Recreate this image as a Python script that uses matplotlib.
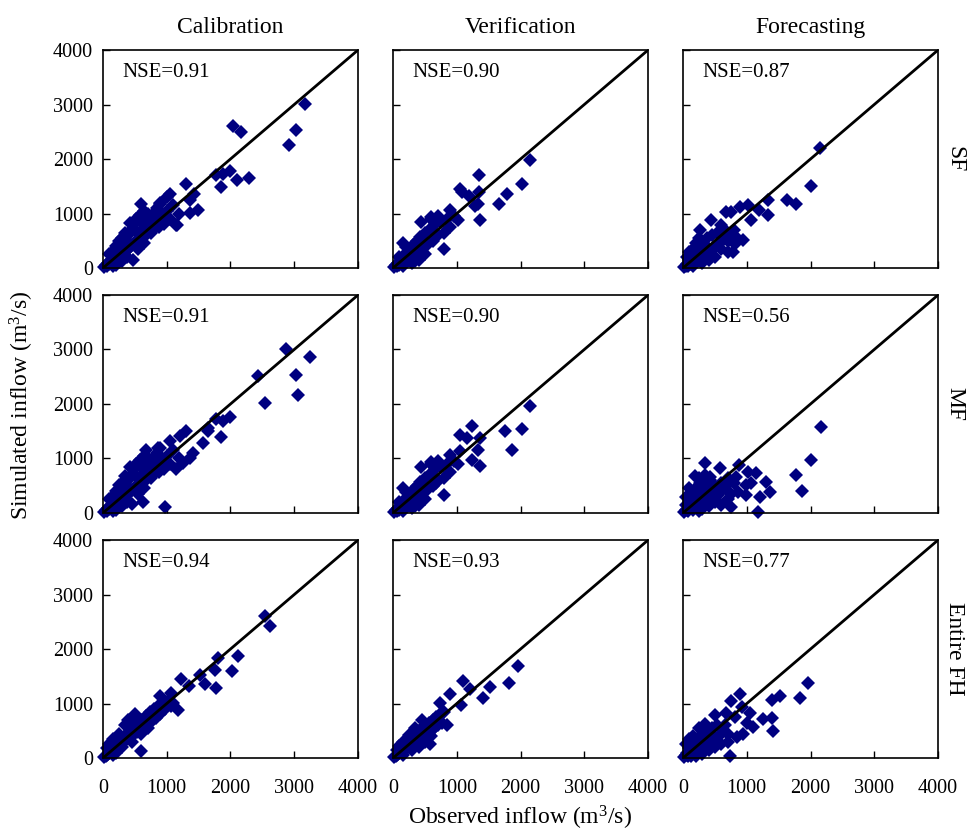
import matplotlib
matplotlib.use('Agg')
from matplotlib import pyplot as plt
import numpy as np

plt.rcParams['font.family'] = ['Liberation Serif', 'DejaVu Serif']
plt.rcParams['mathtext.fontset'] = 'custom'
plt.rcParams['mathtext.rm'] = 'Liberation Serif'
plt.rcParams['mathtext.it'] = 'Liberation Serif:italic'

col_titles = ['Calibration', 'Verification', 'Forecasting']
row_titles = ['SF', 'MF', 'Entire FH']
nse = [['0.91', '0.90', '0.87'],
       ['0.91', '0.90', '0.56'],
       ['0.94', '0.93', '0.77']]
ticks = [0, 1000, 2000, 3000, 4000]

# (observed, simulated) pairs
cal_sf = [(20, 15), (40, 50), (60, 30), (80, 90), (100, 70), (120, 140), (140, 100), (160, 200),
          (180, 130), (200, 260), (220, 170), (240, 310), (260, 220), (280, 380), (300, 250),
          (320, 450), (340, 300), (360, 520), (380, 330), (400, 600), (420, 380), (440, 700),
          (460, 420), (480, 800), (500, 460), (520, 900), (540, 520), (560, 620), (580, 980),
          (600, 560), (620, 700), (650, 1050), (680, 600), (700, 800), (720, 900), (750, 650),
          (780, 1000), (800, 720), (820, 850), (850, 1100), (880, 760), (900, 950), (950, 800),
          (1000, 1050), (1050, 900), (1100, 1150), (1150, 780), (1200, 1000), (470, 140),
          (300, 120), (200, 60), (150, 320), (250, 500), (350, 650), (430, 820), (550, 350),
          (650, 450), (700, 1000), (900, 1200), (1000, 1300), (100, 250), (200, 400),
          (300, 550), (400, 450), (500, 700), (600, 850), (380, 200), (250, 120), (150, 30),
          (3163, 3001), (2039, 2603), (2170, 2499), (3022, 2530), (2918, 2266), (1778, 1703),
          (1882, 1733), (1987, 1776), (1856, 1488), (2107, 1611), (2285, 1654), (1307, 1550),
          (1046, 1354), (1359, 1243), (1427, 1354), (1359, 1011), (1490, 1072), (601, 1170),
          (1160, 784), (889, 1182)]

ver_sf = [(20, 10), (40, 50), (60, 30), (80, 100), (100, 60), (130, 160), (160, 100), (190, 250),
          (220, 150), (250, 320), (280, 200), (310, 420), (340, 250), (370, 500), (400, 300),
          (430, 560), (460, 350), (500, 650), (540, 420), (580, 720), (620, 500), (660, 800),
          (700, 600), (750, 850), (800, 650), (850, 900), (900, 750), (400, 150), (300, 100),
          (200, 380), (150, 450), (350, 130), (500, 250), (600, 900), (700, 950), (950, 950),
          (100, 200), (250, 180), (450, 450), (150, 30),
          (2149, 1991), (2018, 1538), (1353, 1703), (1782, 1366), (1662, 1170), (1353, 1397),
          (1048, 1458), (1075, 1397), (1195, 1317), (1363, 876), (1326, 1170), (1284, 1133),
          (1022, 888), (891, 1072), (797, 355), (603, 937), (446, 845)]

fore_sf = [(20, 10), (40, 40), (60, 80), (80, 40), (100, 150), (120, 70), (150, 200), (180, 100),
           (200, 300), (230, 150), (260, 400), (290, 200), (320, 450), (350, 260), (380, 550),
           (420, 300), (460, 600), (500, 380), (540, 650), (580, 450), (620, 550), (660, 700),
           (700, 500), (750, 600), (800, 700), (850, 550), (300, 100), (400, 150), (500, 200),
           (150, 350), (250, 550), (700, 300), (600, 350), (100, 300), (200, 450), (60, 200),
           (150, 40), (350, 420),
           (2144, 2211), (2013, 1507), (1637, 1256), (1767, 1170), (1333, 1256), (1333, 980),
           (1187, 1060), (1020, 1152), (889, 1121), (758, 1029), (669, 1029), (1072, 876),
           (444, 876), (941, 508), (810, 435), (784, 294), (601, 784), (261, 692)]

cal_mf = [(20, 15), (40, 50), (60, 30), (80, 90), (100, 70), (120, 140), (140, 100), (160, 200),
          (180, 130), (200, 260), (220, 170), (240, 310), (260, 220), (280, 380), (300, 250),
          (320, 450), (340, 300), (360, 520), (380, 330), (400, 600), (420, 380), (440, 700),
          (460, 420), (480, 800), (500, 460), (520, 900), (540, 520), (560, 620), (580, 980),
          (600, 560), (620, 700), (650, 1050), (680, 600), (700, 800), (720, 900), (750, 650),
          (780, 1000), (800, 720), (820, 850), (850, 1100), (880, 760), (900, 950), (950, 800),
          (1000, 1050), (1050, 900), (1100, 1150), (1150, 800), (1200, 1000), (450, 160),
          (300, 120), (200, 60), (150, 320), (250, 520), (350, 680), (430, 850), (550, 350),
          (650, 450), (700, 1000), (900, 1200), (100, 250), (200, 400), (300, 550), (400, 450),
          (500, 700), (600, 850), (380, 200), (250, 120), (150, 30),
          (2876, 3012), (3242, 2870), (2431, 2519), (3022, 2537), (3059, 2167), (2536, 2025),
          (1987, 1759), (1882, 1685), (1778, 1716), (1856, 1389), (1647, 1500), (1569, 1284),
          (1647, 1562), (1307, 1500), (1203, 1407), (1046, 1315), (1359, 1006), (1255, 914),
          (1412, 1099), (967, 111), (680, 1160), (863, 1191), (627, 204)]

ver_mf = [(20, 10), (40, 50), (60, 30), (80, 100), (100, 60), (130, 160), (160, 100), (190, 250),
          (220, 150), (250, 320), (280, 200), (310, 420), (340, 250), (370, 500), (400, 300),
          (430, 560), (460, 350), (500, 650), (540, 420), (580, 720), (620, 500), (660, 800),
          (700, 600), (750, 850), (800, 650), (850, 900), (900, 750), (400, 150), (300, 100),
          (200, 380), (150, 450), (350, 130), (500, 250), (600, 900), (700, 950), (950, 950),
          (100, 200), (250, 180), (450, 450), (150, 30),
          (2149, 1963), (2018, 1549), (1756, 1500), (1861, 1148), (1232, 1605), (1048, 1438),
          (1153, 1377), (1363, 1377), (1326, 1148), (1232, 975), (1363, 864), (1048, 1142),
          (1022, 895), (891, 1056), (797, 327), (603, 944), (446, 852), (681, 543)]

fore_mf = [(20, 10), (40, 60), (60, 150), (80, 40), (100, 250), (120, 100), (150, 350), (180, 150),
           (200, 450), (230, 250), (260, 550), (290, 200), (320, 400), (350, 500), (380, 300),
           (420, 600), (450, 400), (500, 500), (550, 350), (600, 550), (650, 450), (700, 650),
           (300, 80), (400, 120), (500, 200), (600, 150), (700, 250), (150, 50), (100, 450),
           (50, 300), (250, 650), (350, 700), (800, 550), (750, 350), (200, 300), (300, 300),
           (450, 250), (50, 150), (250, 40),
           (2160, 1574), (2013, 975), (1767, 698), (1872, 407), (340, 914), (575, 833), (878, 883),
           (183, 685), (418, 667), (837, 667), (1020, 759), (1150, 728), (1072, 543), (993, 512),
           (1307, 574), (1359, 389), (1203, 296), (993, 327), (863, 389), (758, 111), (1176, 19),
           (654, 481), (549, 327), (418, 204)]

cal_fh = [(20, 15), (40, 40), (60, 60), (80, 80), (100, 100), (120, 120), (140, 150), (160, 150),
          (180, 200), (200, 180), (220, 250), (240, 220), (260, 300), (280, 250), (300, 350),
          (320, 290), (340, 400), (360, 330), (380, 450), (400, 370), (420, 500), (440, 410),
          (460, 550), (480, 440), (500, 600), (530, 480), (560, 650), (590, 520), (620, 700),
          (650, 560), (680, 780), (710, 620), (740, 850), (770, 680), (800, 900), (830, 730),
          (860, 950), (900, 800), (940, 1000), (980, 900), (1020, 1050), (1060, 950), (150, 350),
          (250, 450), (350, 600), (200, 100), (300, 200), (450, 300), (600, 450), (700, 550),
          (400, 700), (500, 800), (100, 250), (60, 180), (150, 60),
          (2536, 2599), (2614, 2414), (2118, 1870), (1804, 1840), (1752, 1623), (2029, 1593),
          (1778, 1284), (1595, 1364), (1516, 1531), (1229, 1451), (1349, 1315), (889, 1130),
          (1072, 1191), (1176, 883), (601, 130), (497, 790), (1098, 1006)]

ver_fh = [(20, 10), (40, 40), (60, 60), (80, 80), (100, 100), (120, 120), (140, 150), (160, 140),
          (180, 200), (200, 170), (220, 250), (240, 200), (260, 300), (280, 240), (300, 350),
          (320, 280), (340, 400), (360, 320), (380, 450), (400, 360), (420, 500), (440, 400),
          (460, 550), (480, 420), (500, 600), (530, 460), (560, 650), (590, 500), (620, 700),
          (650, 550), (680, 750), (710, 600), (740, 800), (770, 650), (800, 850), (150, 300),
          (250, 420), (350, 550), (300, 150), (400, 200), (500, 300), (600, 400), (450, 700),
          (100, 220), (150, 50), (60, 150),
          (1955, 1698), (1824, 1377), (1520, 1302), (1415, 1099), (1101, 1407), (1206, 1265),
          (891, 1179), (1064, 975), (839, 605), (577, 253), (393, 296), (734, 1006)]

fore_fh = [(20, 10), (40, 50), (60, 100), (80, 40), (100, 180), (120, 80), (150, 250), (180, 120),
           (200, 320), (230, 180), (260, 400), (290, 220), (320, 450), (350, 280), (380, 500),
           (420, 320), (460, 550), (500, 380), (540, 600), (580, 420), (620, 500), (660, 600),
           (700, 450), (300, 80), (400, 150), (500, 200), (600, 250), (700, 300), (150, 400),
           (250, 550), (350, 620), (100, 350), (50, 250), (200, 30), (250, 250), (400, 380),
           (550, 300), (120, 40),
           (1953, 1385), (1837, 1095), (1522, 1145), (1391, 1065), (1417, 498), (1391, 726),
           (1260, 708), (892, 1175), (745, 1046), (918, 942), (1050, 831), (997, 634), (1102, 572),
           (944, 449), (814, 757), (499, 788), (682, 818), (735, 31), (840, 388)]

panels = [[cal_sf, ver_sf, fore_sf],
          [cal_mf, ver_mf, fore_mf],
          [cal_fh, ver_fh, fore_fh]]

fig = plt.figure(figsize=(9.76, 8.31), dpi=100)

lefts = [0.1055, 0.4027, 0.6998]
bottoms = [0.6775, 0.3827, 0.0878]
w, h = 0.2613, 0.2623

for i in range(3):
    for j in range(3):
        ax = fig.add_axes([lefts[j], bottoms[i], w, h])
        pts = np.array(panels[i][j])
        ax.plot(pts[:, 0], pts[:, 1], 'D', color='#000080', markersize=7.5,
                markeredgewidth=0, clip_on=False, zorder=2)
        ax.plot([0, 4000], [0, 4000], color='black', linewidth=2, zorder=3)
        ax.set_xlim(0, 4000)
        ax.set_ylim(0, 4000)
        ax.set_xticks(ticks)
        ax.set_yticks(ticks)
        ax.tick_params(axis='both', direction='in', length=5, width=1, labelsize=14.5)
        ax.tick_params(axis='x', pad=15)
        ax.tick_params(axis='y', pad=7)
        if j > 0:
            ax.set_yticklabels([])
        if i < 2:
            ax.set_xticklabels([])
        for s in ax.spines.values():
            s.set_linewidth(1.2)
        ax.text(300, 3580, 'NSE=' + nse[i][j], fontsize=15, va='center', ha='left')
        if i == 0:
            ax.set_title(col_titles[j], fontsize=17, pad=12)
        if j == 2:
            ax.text(1.065, 0.5, row_titles[i], transform=ax.transAxes, rotation=270,
                    fontsize=17, va='center', ha='center')

fig.text(0.022, 1 - 405 / 831, 'Simulated inflow (m$^3$/s)', rotation=90,
         fontsize=17, va='center', ha='center')
fig.text(520 / 976, 1 - 818 / 831, 'Observed inflow (m$^3$/s)',
         fontsize=17, va='center', ha='center')

fig.savefig('out.png', dpi=100)
